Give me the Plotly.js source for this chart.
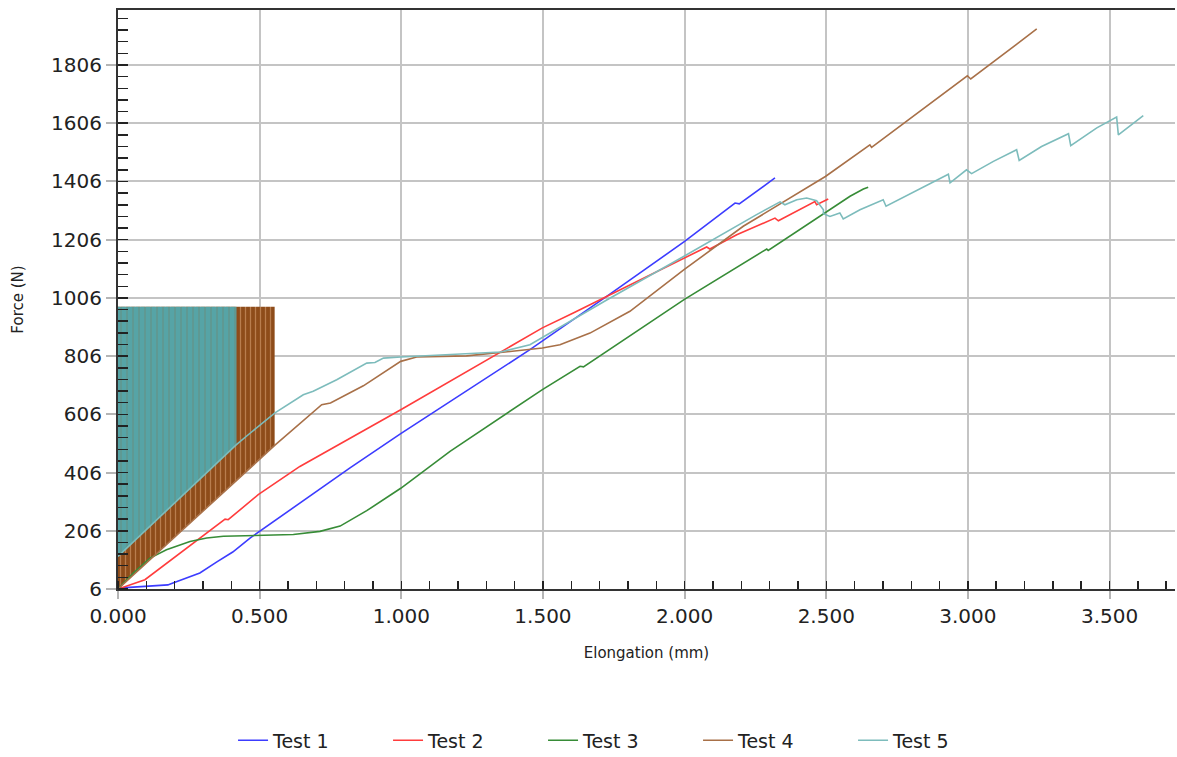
<!DOCTYPE html>
<html>
<head>
<meta charset="utf-8">
<script src="https://cdn.plot.ly/plotly-3.0.1.min.js"></script>
<style>html,body{margin:0;padding:0;background:#fff;}#chart{width:1177px;height:757px;}</style>
</head>
<body>
<div id="chart"></div>
<script>
// ---- data ----
const seriesNames = ["Test 1", "Test 2", "Test 3", "Test 4", "Test 5"];

const test1X = [0, 0.095, 0.176, 0.194, 0.254, 0.289, 0.349, 0.405, 0.466, 0.819, 0.998, 1.454, 1.725, 2.0, 2.178, 2.193, 2.319];
const test1Y = [9, 16, 20, 27, 47, 61, 99, 133, 181, 422, 540, 828, 1011, 1200, 1332, 1329, 1418];

const test2X = [0, 0.095, 0.378, 0.389, 0.495, 0.642, 0.998, 1.498, 1.607, 1.725, 1.998, 2.078, 2.089, 2.184, 2.319, 2.331, 2.46, 2.466, 2.507];
const test2Y = [6, 38, 246, 244, 330, 427, 622, 903, 954, 1011, 1143, 1181, 1174, 1223, 1280, 1271, 1337, 1326, 1346];

const test3X = [0, 0.054, 0.113, 0.171, 0.254, 0.313, 0.372, 0.495, 0.619, 0.713, 0.784, 0.878, 0.998, 1.172, 1.498, 1.631, 1.643, 1.998, 2.29, 2.295, 2.584, 2.631, 2.648];
const test3Y = [6, 61, 112, 141, 169, 181, 187, 189, 193, 204, 222, 275, 352, 479, 691, 771, 769, 1000, 1174, 1169, 1355, 1380, 1386];

const test4X = [0, 0.554, 0.719, 0.75, 0.866, 0.998, 1.054, 1.23, 1.384, 1.498, 1.56, 1.666, 1.807, 1.998, 2.207, 2.497, 2.654, 2.66, 2.998, 3.01, 3.243];
const test4Y = [6, 500, 639, 645, 704, 788, 803, 807, 822, 834, 845, 885, 960, 1103, 1252, 1423, 1532, 1523, 1769, 1758, 1930];

const test5X = [0, 0.418, 0.466, 0.554, 0.654, 0.689, 0.772, 0.878, 0.907, 0.937, 0.998, 1.172, 1.35, 1.454, 1.725, 1.998, 2.231, 2.254, 2.337, 2.354, 2.396, 2.431, 2.466, 2.49, 2.49, 2.513, 2.548, 2.56, 2.619, 2.701, 2.711, 2.784, 2.86, 2.931, 2.937, 2.995, 3.013, 3.09, 3.172, 3.181, 3.26, 3.355, 3.363, 3.455, 3.525, 3.531, 3.619];
const test5Y = [118, 502, 541, 611, 673, 685, 725, 782, 784, 799, 803, 811, 820, 845, 999, 1149, 1280, 1292, 1336, 1326, 1343, 1349, 1340, 1309, 1295, 1286, 1298, 1277, 1309, 1343, 1321, 1358, 1395, 1431, 1401, 1446, 1433, 1475, 1515, 1478, 1526, 1570, 1529, 1590, 1627, 1566, 1632];

// noisy start-up band of Test 4 and Test 5 (outline of the oscillation envelope)
const test4NoiseX = [0, 0.553, 0.553, 0];
const test4NoiseY = [6, 500, 976, 976];
const test5NoiseX = [0, 0.418, 0.418, 0];
const test5NoiseY = [118, 502, 976, 976];

const xTickVals = [0, 0.5, 1.0, 1.5, 2.0, 2.5, 3.0, 3.5];
const xTickText = ["0.000", "0.500", "1.000", "1.500", "2.000", "2.500", "3.000", "3.500"];
const yTickVals = [6, 206, 406, 606, 806, 1006, 1206, 1406, 1606, 1806];
const yTickText = ["6", "206", "406", "606", "806", "1006", "1206", "1406", "1606", "1806"];

// ---- styling ----
const colors = ["rgb(60,60,255)", "rgb(255,60,60)", "rgb(55,140,55)", "rgb(168,112,72)", "rgb(125,188,188)"];
const font = "DejaVu Sans, Liberation Sans, Arial, sans-serif";

const traces = [
  {
    x: test4NoiseX, y: test4NoiseY, type: "scatter", mode: "none", fill: "toself",
    fillcolor: "rgb(145,78,28)",
    fillpattern: {shape: "|", bgcolor: "rgb(142,76,26)", fgcolor: "rgb(185,125,78)", size: 5, solidity: 0.25},
    showlegend: false, hoverinfo: "skip"
  },
  {
    x: test5NoiseX, y: test5NoiseY, type: "scatter", mode: "none", fill: "toself",
    fillcolor: "rgb(85,165,168)",
    fillpattern: {shape: "|", bgcolor: "rgb(86,164,166)", fgcolor: "rgb(100,145,135)", size: 6, solidity: 0.2},
    showlegend: false, hoverinfo: "skip"
  }
];
const xs = [test1X, test2X, test3X, test4X, test5X];
const ys = [test1Y, test2Y, test3Y, test4Y, test5Y];
for (let i = 0; i < 5; i++) {
  traces.push({
    x: xs[i], y: ys[i], type: "scatter", mode: "lines", name: seriesNames[i],
    line: {color: colors[i], width: 1.6}
  });
}

const layout = {
  width: 1177, height: 757,
  paper_bgcolor: "#ffffff", plot_bgcolor: "#ffffff",
  margin: {l: 118, r: 2, t: 10, b: 168},
  font: {family: font, color: "#222"},
  showlegend: true,
  legend: {
    orientation: "h", xref: "container", yref: "container",
    x: 0.198, y: 0.022, xanchor: "left", yanchor: "middle",
    font: {family: font, size: 19, color: "#222"},
    entrywidth: 110, entrywidthmode: "pixels"
  },
  xaxis: {
    range: [0, 3.731], fixedrange: true,
    tickvals: xTickVals, ticktext: xTickText,
    ticks: "outside", ticklen: 8, tickwidth: 2, tickcolor: "#b5b5b5",
    minor: {dtick: 0.1, tick0: 0, ticks: "inside", ticklen: 8, tickwidth: 1.5, tickcolor: "#222", showgrid: false},
    showgrid: true, gridcolor: "#c4c4c4", gridwidth: 2,
    showline: true, linecolor: "#333", linewidth: 2, mirror: true,
    zeroline: false,
    tickfont: {family: font, size: 20, color: "#222"},
    title: {text: "Elongation (mm)", font: {family: font, size: 15, color: "#222"}, standoff: 20}
  },
  yaxis: {
    range: [6, 1995], fixedrange: true,
    tickvals: yTickVals, ticktext: yTickText,
    ticks: "outside", ticklen: 10, tickwidth: 2, tickcolor: "#b5b5b5",
    minor: {dtick: 40, tick0: 6, ticks: "inside", ticklen: 10, tickwidth: 1.5, tickcolor: "#222", showgrid: false},
    showgrid: true, gridcolor: "#c4c4c4", gridwidth: 2,
    showline: true, linecolor: "#333", linewidth: 2,
    zeroline: false,
    tickfont: {family: font, size: 20, color: "#222"},
    title: {text: "Force (N)", font: {family: font, size: 15, color: "#222"}, standoff: 24}
  }
};

Plotly.newPlot("chart", traces, layout, {displayModeBar: false, staticPlot: true});
</script>
</body>
</html>
